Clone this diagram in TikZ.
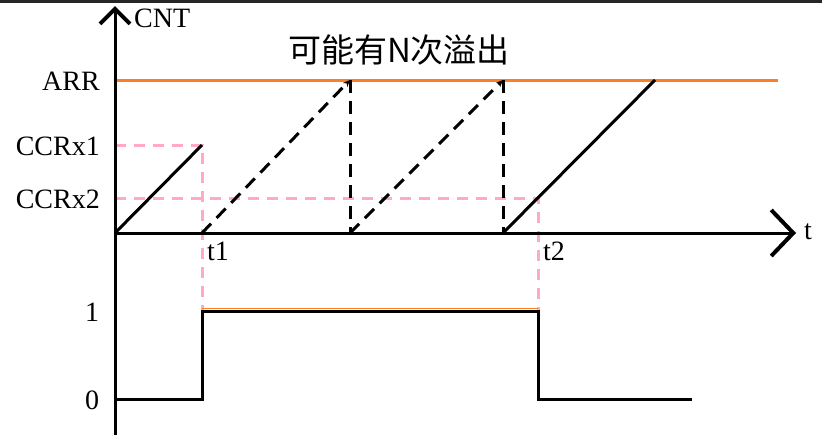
\documentclass[tikz,border=0pt]{standalone}
\usepackage{fontspec}
\setmainfont{Liberation Serif}
\newfontfamily\cjk{Noto Sans CJK SC}
\usetikzlibrary{arrows.meta}
\definecolor{arrorange}{RGB}{250,128,40}
\definecolor{ccrpink}{RGB}{255,168,200}
\tikzset{
  lbl/.style={font=\fontsize{28}{32}\selectfont, inner sep=0pt},
  wave/.style={line width=3pt},
  guide/.style={ccrpink, line width=3pt, dash pattern=on 11pt off 8pt},
  ramp/.style={line width=3pt, dash pattern=on 13pt off 8pt},
}
\begin{document}
\begin{tikzpicture}[x=1pt,y=-1pt]

  \useasboundingbox (0,0) rectangle (822,437);
  \fill[black!85] (0,0) rectangle (822,3);

  \coordinate (O) at (115,233);
  \coordinate (c1) at (202,145);
  \coordinate (c2) at (538,198);
  \coordinate (p1) at (350,80);
  \coordinate (p2) at (503,80);
  \coordinate (b1) at (350,233);
  \coordinate (b2) at (503,233);
  \coordinate (s0) at (202,233);
  \coordinate (top) at (655,80);

  % limits and compare values
  \draw[arrorange, line width=3pt] (115,80) -- (778,80);
  \draw[guide] (115,145) -- (c1) -- (202,310);
  \draw[guide] (115,198) -- (c2) -- (538,310);

  % axes
  \draw[wave, -{Straight Barb[length=15pt,width=30pt,line width=4pt]}] (115,435) -- (115,6);
  \draw[wave, -{Straight Barb[length=22pt,width=46pt,line width=4pt]}] (115,233) -- (796,233);

  % counter
  \draw[wave] (O) -- (c1);
  \draw[ramp, -{Stealth[length=7pt,width=6pt]}] (s0) -- (p1);
  \draw[ramp] (p1) -- (b1);
  \draw[ramp, -{Stealth[length=7pt,width=6pt]}] (b1) -- (p2);
  \draw[ramp] (p2) -- (b2);
  \draw[wave] (b2) -- (top);

  % output
  \draw[arrorange, line width=1.5pt] (202,308.5) -- (538,308.5);
  \draw[wave] (115,399) -- (202,399) -- (202,311) -- (538,311) -- (538,399) -- (692,399);

  \node[lbl, anchor=west] (cnt) at (134,18) {CNT};
  \node[lbl, anchor=east] (arr) at (100,81) {ARR};
  \node[lbl, anchor=east] (ccr1) at (100,146) {CCRx1};
  \node[lbl, anchor=east] (ccr2) at (100,199) {CCRx2};
  \node[lbl, anchor=west] (tax) at (804,232) {t};
  \node[lbl, anchor=west] (t1) at (207,251) {t1};
  \node[lbl, anchor=west] (t2) at (543,251) {t2};
  \node[lbl] (hi) at (92,312) {1};
  \node[lbl] (lo) at (92,400) {0};
  \node[font=\cjk\fontsize{33}{36}\selectfont, inner sep=0pt] (ovf) at (399,50) {可能有N次溢出};

\end{tikzpicture}
\end{document}
